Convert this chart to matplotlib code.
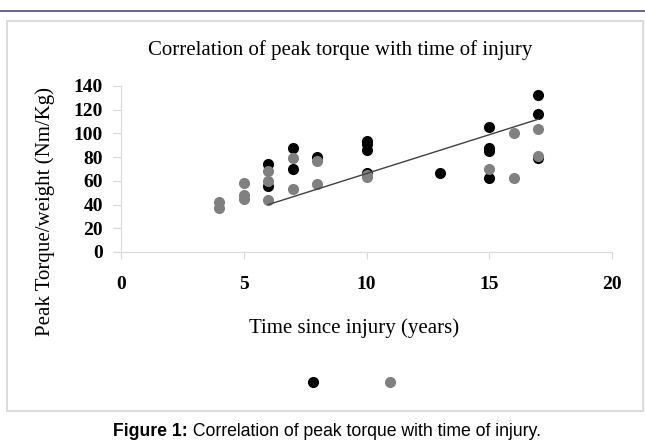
import matplotlib.pyplot as plt
from matplotlib.lines import Line2D
from matplotlib.patches import Rectangle

# values
black_x = [6, 6, 7, 7, 8, 10, 10, 10, 10, 13, 15, 15, 15, 15, 17, 17, 17]
black_y = [74, 56, 88, 70, 80, 94, 91, 86, 67, 67, 105, 88, 85, 62, 132, 116, 79]

gray_x = [4, 4, 5, 5, 5, 6, 6, 6, 7, 7, 8, 8, 10, 10, 15, 16, 16, 17, 17]
gray_y = [42, 37, 58, 48, 45, 68, 60, 44, 79, 53, 77, 57, 65, 63, 70, 100, 62, 104, 81]

trend_x = [6, 17]
trend_y = [40, 112]

x_ticks = [0, 5, 10, 15, 20]
y_ticks = [0, 20, 40, 60, 80, 100, 120, 140]

W, H = 645, 448
serif = "Liberation Serif"
spine_col = "#d9d9d9"

fig = plt.figure(figsize=(W / 100, H / 100), dpi=100)

# outer chart frame and the rule at the very top
fig.add_artist(Rectangle((7 / W, 1 - 411 / H), (643 - 7) / W, (411 - 21) / H,
                         transform=fig.transFigure, fill=False,
                         edgecolor="#d4d4d4", linewidth=1.2))
fig.add_artist(Line2D([0, 1], [1 - 11 / H, 1 - 11 / H], transform=fig.transFigure,
                      color="#4a4a88", linewidth=1.2))

ax = fig.add_axes([121 / W, 1 - 252 / H, (612 - 121) / W, (252 - 86) / H])

ax.scatter(black_x, black_y, s=64, color="black", zorder=3, linewidths=0)
ax.scatter(gray_x, gray_y, s=64, color="#808080", zorder=4, linewidths=0)
ax.plot(trend_x, trend_y, color="#404040", linewidth=1, zorder=5)

ax.set_xlim(0, 20)
ax.set_ylim(0, 140)
ax.set_xticks(x_ticks)
ax.set_yticks(y_ticks)
ax.set_xticklabels([str(v) for v in x_ticks], fontfamily=serif, fontweight="bold", fontsize=14)
ax.set_yticklabels([str(v) for v in y_ticks], fontfamily=serif, fontweight="bold", fontsize=14)
ax.tick_params(axis="x", length=5, color=spine_col, pad=12)
ax.tick_params(axis="y", length=6, color=spine_col, pad=7)

for side in ["top", "right"]:
    ax.spines[side].set_visible(False)
for side in ["left", "bottom"]:
    ax.spines[side].set_color(spine_col)

ax.set_xlabel("Time since injury (years)", fontfamily=serif, fontsize=15)
ax.xaxis.set_label_coords((354 - 121) / 491, (252 - 328) / 166)
ax.xaxis.label.set_va("center")
ax.set_ylabel("Peak Torque/weight (Nm/Kg)", fontfamily=serif, fontsize=15)
ax.yaxis.set_label_coords((45 - 121) / 491, (252 - 212) / 166)
ax.yaxis.label.set_va("center")

fig.text(340 / W, 1 - 55 / H, "Correlation of peak torque with time of injury",
         fontfamily=serif, fontsize=15, ha="center", va="baseline")

# legend with markers only
handles = [Line2D([], [], linestyle="none", marker="o", markersize=7, color="black"),
           Line2D([], [], linestyle="none", marker="o", markersize=7, color="#808080")]
fig.legend(handles, ["", ""], loc="center", bbox_to_anchor=(351.5 / W, 1 - 383 / H),
           ncol=2, frameon=False, handlelength=1, handletextpad=0, columnspacing=4.5,
           fontsize=10)

# caption: bold lead-in followed by regular text
cap_y = 1 - 431 / H
fig.canvas.draw()
renderer = fig.canvas.get_renderer()
bold = fig.text(0, cap_y, "Figure 1:", fontfamily="Liberation Sans", fontweight="bold",
                fontsize=12.7, ha="left", va="center")
rest = fig.text(0, cap_y, " Correlation of peak torque with time of injury.",
                fontfamily="Liberation Sans", fontsize=12.7, ha="left", va="center")
wb = bold.get_window_extent(renderer).width
wr = rest.get_window_extent(renderer).width
x0 = 327 - (wb + wr) / 2
bold.set_x(x0 / W)
rest.set_x((x0 + wb) / W)

fig.savefig("out.png", dpi=100)
